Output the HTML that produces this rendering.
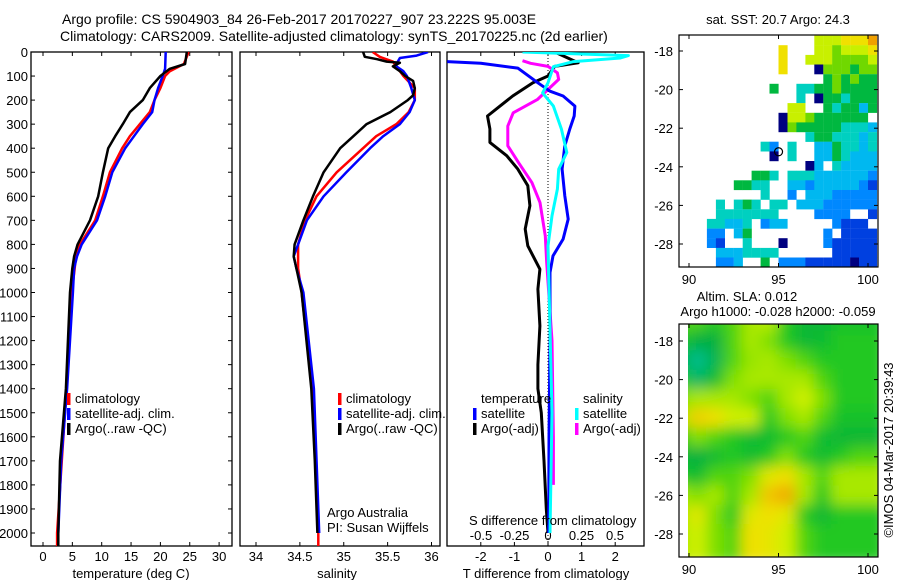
<!DOCTYPE html>
<html><head><meta charset="utf-8">
<style>
html,body{margin:0;padding:0;background:#fff;}
svg{display:block;font-family:"Liberation Sans",sans-serif;}
text{font-size:13px;fill:#000;}
</style></head>
<body>
<svg id="fig" width="900" height="580" viewBox="0 0 900 580" xmlns="http://www.w3.org/2000/svg">
<defs>
<filter id="blur2" x="0" y="0" width="100%" height="100%"><feGaussianBlur stdDeviation="7"/></filter>
<clipPath id="clip1"><rect x="31" y="52" width="201" height="494"/></clipPath>
<clipPath id="clip2"><rect x="240" y="52" width="200" height="494"/></clipPath>
<clipPath id="clip3"><rect x="447" y="52" width="197" height="494"/></clipPath>
<clipPath id="clipm2"><rect x="688" y="324" width="190" height="233"/></clipPath>
</defs>
<text x="62" y="24" style="font-size:14px">Argo profile: CS 5904903_84 26-Feb-2017 20170227_907 23.222S 95.003E</text>
<text x="60" y="41" style="font-size:14px">Climatology: CARS2009. Satellite-adjusted climatology: synTS_20170225.nc (2d earlier)</text>
<g id="g1"></g>
<g id="g2"></g>
<g id="g3"></g>
<g id="m1"></g>
<g id="m2"></g>
<text transform="translate(893,450) rotate(-90)" text-anchor="middle" style="font-size:13px">©IMOS 04-Mar-2017 20:39:43</text>
</svg>
<script>
// ---- profile data ----
const tDepth = [0,50,70,100,150,200,250,300,350,400,500,600,700,800,850,900,1000,1400,1700,2000,2054];
const tArgo  = [24.5,24.2,21.6,20,18.2,17,14.8,13.6,12.3,11.1,10.2,9.4,8,5.9,5.3,5,4.6,3.9,2.9,2.6,2.6];
const tClimDepth = [0,50,80,100,150,200,250,300,350,400,500,600,700,800,850,900,1000,1400,1700,2000,2054];
const tClim  = [24.8,24,21.6,20.8,20,19,18.2,16.5,14.8,13.5,11.4,10.2,8.9,6.3,5.6,5.4,4.9,4.0,3.2,2.4,2.4];
const tSatDepth = [0,70,100,150,200,250,300,350,400,500,600,700,800,850,900,1000,1400,1700,2000];
const tSat   = [20.9,20.8,20.4,19.6,19,18.6,17,15.5,14,11.8,10.6,9.2,6.6,5.8,5.3,5.1,4.1,3.1,2.6];
const sArgoDepth = [0,20,30,40,45,60,80,100,120,150,180,200,250,300,350,400,500,600,700,800,850,900,1000,1400,1700,2000];
const sArgo = [35.22,35.24,35.38,35.49,35.64,35.56,35.64,35.7,35.79,35.81,35.79,35.73,35.53,35.26,35.11,34.96,34.77,34.65,34.54,34.44,34.43,34.46,34.52,34.63,34.67,34.7];
const sClimDepth = [0,20,40,60,100,150,200,250,300,350,400,500,600,700,800,900,1000,1400,2000,2054];
const sClim = [35.33,35.41,35.56,35.6,35.68,35.81,35.81,35.74,35.6,35.37,35.22,34.92,34.69,34.56,34.48,34.48,34.52,34.64,34.71,34.71];
const sSatDepth = [0,15,25,50,60,80,100,150,200,250,300,350,400,500,600,700,800,850,900,1000,1400,2000];
const sSat = [35.96,35.83,35.64,35.6,35.6,35.68,35.72,35.77,35.81,35.75,35.64,35.45,35.3,35.03,34.77,34.58,34.48,34.43,34.46,34.54,34.66,34.72];
// differences
const dTSatDepth = [40,47,67,128,163,183,225,266,320,390,487,598,695,778,848,917,1200,1600,2000];
const dTSat = [-3,-2,-0.9,-0.3,0.06,0.45,0.8,0.78,0.65,0.5,0.42,0.5,0.6,0.45,0.15,0.06,0.06,0.03,0.02];
const dTArgoDepth = [0,45,60,100,128,183,225,266,320,376,431,487,556,639,736,806,903,986,1139,1300,1400,1500,1700,1900,2000];
const dTArgo = [0.2,0.9,0.2,0,-0.45,-1.05,-1.43,-1.8,-1.73,-1.73,-1.23,-0.9,-0.6,-0.54,-0.68,-0.6,-0.24,-0.3,-0.24,-0.3,-0.3,-0.2,-0.12,-0.05,0];
const dSSatDepth = [0,15,25,40,61,128,170,225,320,418,487,570,681,806,1500,2000];
const dSSat = [-0.19,0.6,0.54,0.19,0.04,0,-0.04,0.04,0.1,0.14,0.08,0.07,0.03,0,0.03,0.015];
const dSArgoDepth = [36,47,60,87,114,156,198,253,308,390,460,543,626,765,876,1200,1600,1800];
const dSArgo = [-0.19,-0.13,0,0.07,0.08,0,-0.08,-0.26,-0.3,-0.3,-0.22,-0.12,-0.06,-0.02,-0.01,0.03,0.04,0.04];

const depthTicks = [0,100,200,300,400,500,600,700,800,900,1000,1100,1200,1300,1400,1500,1600,1700,1800,1900,2000];
const tTicks = [0,5,10,15,20,25,30];
const sTicks = [34,34.5,35,35.5,36];
const sTickLabels = ["34","34.5","35","35.5","36"];
const dTTicks = [-2,-1,0,1,2];
const dSTicks = [-0.5,-0.25,0,0.25,0.5];

// axes
const yD = d => 52 + d*0.2405;
const xT = t => 43 + t*5.87;
const xS = s => 256 + (s-34)*87.75;
const xDT = v => 548 + v*33.6;
const xDS = v => 548 + v*134;

const NS="http://www.w3.org/2000/svg";
function mk(tag, attrs, parent, txt){
  const e=document.createElementNS(NS,tag);
  for(const k in attrs) e.setAttribute(k,attrs[k]);
  if(txt!==undefined) e.textContent=txt;
  parent.appendChild(e); return e;
}
function line(parent, xs, ds, xf, color, w, name, clip){
  let d="";
  for(let i=0;i<xs.length;i++) d+=(i?"L":"M")+xf(xs[i]).toFixed(1)+","+yD(ds[i]).toFixed(1);
  const p=mk("path",{d:d,fill:"none",stroke:color,"stroke-width":w,"stroke-linejoin":"round","clip-path":"url(#"+clip+")"},parent);
  
  
}
function frame(parent,x0,x1,name){
  const r=mk("rect",{x:x0,y:52,width:x1-x0,height:494,fill:"none",stroke:"#000","stroke-width":1.3},parent);
  
  
}
const g1=document.getElementById("g1"), g2=document.getElementById("g2"), g3=document.getElementById("g3");
depthTicks.forEach(d=>{
  const t=mk("text",{x:28,y:yD(d)+5,"text-anchor":"end"},g1,String(d));
  
  
  mk("line",{x1:31,x2:35,y1:yD(d),y2:yD(d),stroke:"#000"},g1);
  mk("line",{x1:228,x2:232,y1:yD(d),y2:yD(d),stroke:"#000"},g1);
});
frame(g1,31,232,"temperature-axes-frame");
tTicks.forEach(t=>{
  const x=xT(t);
  mk("line",{x1:x,x2:x,y1:52,y2:56,stroke:"#000"},g1);
  mk("line",{x1:x,x2:x,y1:542,y2:546,stroke:"#000"},g1);
  const e=mk("text",{x:x,y:561,"text-anchor":"middle"},g1,String(t));
  
  
});
line(g1,tClim,tClimDepth,xT,"#f00",2.5,"temperature-climatology-line","clip1");
line(g1,tSat,tSatDepth,xT,"#00f",2.5,"temperature-satellite-line","clip1");
line(g1,tArgo,tDepth,xT,"#000",2.5,"temperature-argo-line","clip1");
mk("text",{x:131,y:578,"text-anchor":"middle",},g1,"temperature (deg C)");
frame(g2,240,440,"salinity-axes-frame");
sTicks.forEach((s,i)=>{
  const x=xS(s);
  mk("line",{x1:x,x2:x,y1:52,y2:56,stroke:"#000"},g2);
  mk("line",{x1:x,x2:x,y1:542,y2:546,stroke:"#000"},g2);
  const e=mk("text",{x:x,y:561,"text-anchor":"middle"},g2,sTickLabels[i]);
  
  
});
line(g2,sClim,sClimDepth,xS,"#f00",2.5,"salinity-climatology-line","clip2");
line(g2,sSat,sSatDepth,xS,"#00f",2.5,"salinity-satellite-line","clip2");
line(g2,sArgo,sArgoDepth,xS,"#000",2.5,"salinity-argo-line","clip2");
mk("text",{x:337,y:578,"text-anchor":"middle",},g2,"salinity");
mk("text",{x:327,y:517,},g2,"Argo Australia");
mk("text",{x:327,y:532,},g2,"PI: Susan Wijffels");
function legend(parent,x,y,color,label,name){
  mk("rect",{x:x,y:y-10,width:3.5,height:12,fill:color},parent);
  const t=mk("text",{x:x+8,y:y},parent,label);
  
  
}
legend(g1,67,403,"#f00","climatology","legend-climatology");
legend(g1,67,418,"#00f","satellite-adj. clim.","legend-satellite");
legend(g1,67,433,"#000","Argo(..raw -QC)","legend-argo");
frame(g3,447,644,"difference-axes-frame");
mk("line",{x1:548,x2:548,y1:52,y2:546,stroke:"#000","stroke-dasharray":"1,2","stroke-width":1},g3);
dTTicks.forEach(v=>{
  const x=xDT(v);
  mk("line",{x1:x,x2:x,y1:52,y2:56,stroke:"#000"},g3);
  mk("line",{x1:x,x2:x,y1:542,y2:546,stroke:"#000"},g3);
  const e=mk("text",{x:x,y:561,"text-anchor":"middle"},g3,String(v));
  
  
});
dSTicks.forEach(v=>{
  const e=mk("text",{x:xDS(v),y:540,"text-anchor":"middle"},g3,String(v));
  
  
});
line(g3,dTArgo,dTArgoDepth,xDT,"#000",3,"tdiff-argo-line","clip3");
line(g3,dSArgo,dSArgoDepth,xDS,"#f0f",3,"sdiff-argo-line","clip3");
line(g3,dTSat,dTSatDepth,xDT,"#00f",3,"tdiff-satellite-line","clip3");
line(g3,dSSat,dSSatDepth,xDS,"#0ff",3,"sdiff-satellite-line","clip3");
mk("text",{x:469,y:525,},g3,"S difference from climatology");
mk("text",{x:546,y:578,"text-anchor":"middle",},g3,"T difference from climatology");
legend(g2,338,403,"#f00","climatology","legend-climatology-2");
legend(g2,338,418,"#00f","satellite-adj. clim.","legend-satellite-2");
legend(g2,338,433,"#000","Argo(..raw -QC)","legend-argo-2");
mk("text",{x:481,y:403,},g3,"temperature");
mk("text",{x:583,y:403,},g3,"salinity");
legend(g3,473,418,"#00f","satellite","legend-t-satellite");
legend(g3,473,433,"#000","Argo(-adj)","legend-t-argo");
legend(g3,575,418,"#0ff","satellite","legend-s-satellite");
legend(g3,575,433,"#f0f","Argo(-adj)","legend-s-argo");

// ---- maps ----
const latTicks=[-18,-20,-22,-24,-26,-28];
const lonTicks=[90,95,100];
const sstRows=[
"...............7778889",
"...........8...7767778",
"...........8..77766667",
"...........8...0666566",
"................565655",
"..........5..445565555",
".............4.0554555",
"............77..545535",
"...........0776555555",
"...........06555554443",
"..............45544434",
".........42.4..3354434",
"..........0.4..3354333",
"..............03.43333",
"........554.4443333332",
"......5544..3323333321",
".........4..2.33322222",
"....4.454.44.333222222",
"....4444444....2222..1",
"...44334.233.....2111",
"...22.35........2.1111",
"...21..4...0....211111",
"....3334444......11111",
"....223..5.22211111011"];
const sstColors=["#000080","#0040e0","#0088ff","#00b8f0","#00d0c0","#00b840","#70d800","#c8f000","#f0e000","#f0a000"];
const slaRows=[
[0.5,0.5,0.45,0.5,0.6,0.62,0.45,0.38,0.38,0.42,0.42],
[0.45,0.35,0.35,0.5,0.6,0.55,0.45,0.38,0.4,0.45,0.45],
[0.35,0.15,0.3,0.5,0.58,0.6,0.55,0.5,0.45,0.45,0.45],
[0.45,0.25,0.4,0.55,0.6,0.6,0.6,0.6,0.5,0.45,0.45],
[0.55,0.6,0.6,0.6,0.55,0.5,0.6,0.65,0.55,0.45,0.45],
[0.6,0.78,0.75,0.65,0.65,0.45,0.55,0.6,0.5,0.42,0.42],
[0.45,0.55,0.5,0.45,0.4,0.4,0.45,0.5,0.4,0.38,0.38],
[0.38,0.35,0.4,0.45,0.4,0.45,0.55,0.45,0.4,0.45,0.5],
[0.45,0.4,0.5,0.5,0.55,0.7,0.75,0.6,0.5,0.6,0.6],
[0.6,0.55,0.6,0.5,0.6,0.8,0.85,0.6,0.45,0.6,0.6],
[0.6,0.7,0.55,0.45,0.7,0.75,0.7,0.45,0.38,0.45,0.45],
[0.6,0.65,0.55,0.5,0.75,0.72,0.65,0.5,0.45,0.45,0.45]];
const lonX = lon => 689 + (lon-90)*17.9;
const latY1 = lat => 51 + (-18-lat)*19.3;
const latY2 = lat => 341 + (-18-lat)*19.3;
function slaColor(v){
  const stops=[[0.1,[0,192,160]],[0.35,[0,176,64]],[0.45,[32,200,32]],[0.55,[128,224,0]],[0.65,[208,240,0]],[0.75,[240,224,0]],[0.87,[240,160,0]]];
  if(v<=stops[0][0]) return "rgb("+stops[0][1]+")";
  for(let i=1;i<stops.length;i++){ if(v<=stops[i][0]){const a=stops[i-1],b=stops[i],f=(v-a[0])/(b[0]-a[0]);return "rgb("+a[1].map((c,k)=>Math.round(c+(b[1][k]-c)*f)).join(",")+")";}}
  return "rgb(240,160,0)";
}
function mapAxes(g,y0,y1,latY,name){
  const r=mk("rect",{x:679,y:y0,width:199,height:y1-y0,fill:"none",stroke:"#000","stroke-width":1.2},g);
  
  
  latTicks.forEach(l=>{
    const y=latY(l);
    mk("line",{x1:679,x2:683,y1:y,y2:y,stroke:"#000"},g);
    mk("line",{x1:874,x2:878,y1:y,y2:y,stroke:"#000"},g);
    const t=mk("text",{x:673,y:y+5,"text-anchor":"end"},g,String(l));
    
    
  });
  lonTicks.forEach(l=>{
    const x=lonX(l);
    mk("line",{x1:x,x2:x,y1:y1-4,y2:y1,stroke:"#000"},g);
    mk("line",{x1:x,x2:x,y1:y0,y2:y0+4,stroke:"#000"},g);
    const t=mk("text",{x:x,y:y1+17,"text-anchor":"middle"},g,String(l));
    
    
  });
}
const m1=document.getElementById("m1"), m2=document.getElementById("m2");
sstRows.forEach((row,j)=>{
  for(let i=0;i<row.length;i++){
    const c=row[i]; if(c===".") continue;
    const lon=89.5+0.5*i, lat=-17.2-0.5*j;
    const x=lonX(lon), y=latY1(lat);
    const w=Math.min(9.1, 878-x);
    if(w<=0) continue;
    const r=mk("rect",{x:x.toFixed(1),y:y.toFixed(1),width:w.toFixed(1),height:Math.min(9.8,267-y).toFixed(1),fill:sstColors[+c]},m1);
    
    
  }
});
mk("circle",{cx:lonX(95.003),cy:latY1(-23.222),r:4,fill:"none",stroke:"#000","stroke-width":1.2,},m1);
mapAxes(m1,35,267,latY1,"sst-map-frame");
mk("text",{x:778,y:24,"text-anchor":"middle",},m1,"sat. SST: 20.7 Argo: 24.3");
const gb=mk("g",{"clip-path":"url(#clipm2)"},m2);
const gbi=mk("g",{filter:"url(#blur2)"},gb);
slaRows.forEach((row,j)=>{
  row.forEach((v,i)=>{
    const x=lonX(89.5+i), y=latY2(-17+(-j));
    const r=mk("rect",{x:(x-10).toFixed(1),y:(y-10).toFixed(1),width:38,height:40,fill:slaColor(v)},gbi);
    
    
  });
});
mapAxes(m2,324,557,latY2,"sla-map-frame");
mk("text",{x:747,y:301,"text-anchor":"middle",},m2,"Altim. SLA: 0.012");
mk("text",{x:778,y:316,"text-anchor":"middle",},m2,"Argo h1000: -0.028 h2000: -0.059");
</script>
</body></html>
